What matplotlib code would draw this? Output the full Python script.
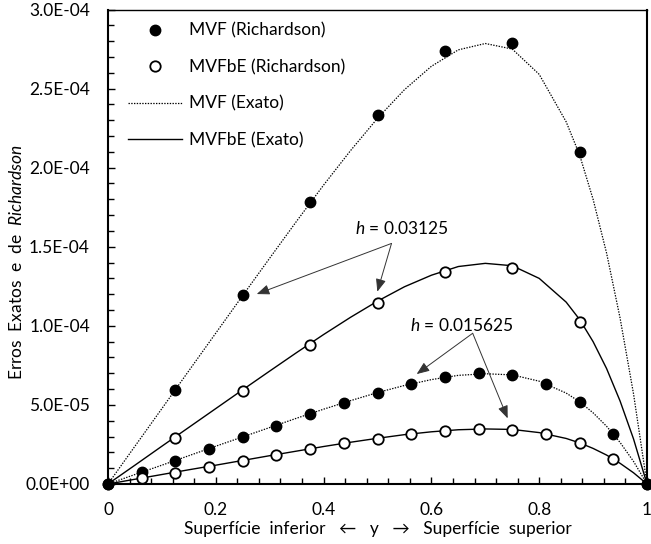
import matplotlib
matplotlib.use('Agg')
import matplotlib.pyplot as plt
from matplotlib.ticker import MultipleLocator, FuncFormatter
from matplotlib.lines import Line2D

plt.rcParams['font.family'] = ['Lato', 'DejaVu Sans']
plt.rcParams['mathtext.fontset'] = 'custom'
plt.rcParams['mathtext.rm'] = 'Lato'
plt.rcParams['mathtext.it'] = 'Lato:italic'

# ---------------- data ----------------
# grid points, h = 0.03125 results (every 0.125)
y_h1 = [0, 0.125, 0.25, 0.375, 0.5, 0.625, 0.75, 0.875, 1.0]
mvf_rich_h1 = [0, 5.95e-5, 11.93e-5, 17.84e-5, 23.3e-5, 27.37e-5, 27.86e-5, 21.0e-5, 0]
mvfbe_rich_h1 = [0, 2.93e-5, 5.91e-5, 8.81e-5, 11.46e-5, 13.4e-5, 13.64e-5, 10.26e-5, 0]

# grid points, h = 0.015625 results (every 0.0625)
y_h2 = [0, 0.0625, 0.125, 0.1875, 0.25, 0.3125, 0.375, 0.4375, 0.5,
        0.5625, 0.625, 0.6875, 0.75, 0.8125, 0.875, 0.9375, 1.0]
mvf_rich_h2 = [0, 0.74e-5, 1.48e-5, 2.22e-5, 2.95e-5, 3.67e-5, 4.43e-5, 5.13e-5, 5.78e-5,
               6.33e-5, 6.78e-5, 7.0e-5, 6.89e-5, 6.32e-5, 5.18e-5, 3.16e-5, 0]
mvfbe_rich_h2 = [0, 0.36e-5, 0.72e-5, 1.10e-5, 1.48e-5, 1.81e-5, 2.19e-5, 2.57e-5, 2.87e-5,
                 3.19e-5, 3.38e-5, 3.46e-5, 3.42e-5, 3.16e-5, 2.57e-5, 1.58e-5, 0]

# exact error curves
y_ex = [0, 0.05, 0.1, 0.15, 0.2, 0.25, 0.3, 0.35, 0.4, 0.45, 0.5, 0.55, 0.6, 0.65,
        0.7, 0.75, 0.8, 0.85, 0.875, 0.9, 0.925, 0.95, 0.975, 1.0]
mvf_ex_h1 = [0, 2.39e-5, 4.77e-5, 7.16e-5, 9.54e-5, 11.92e-5, 14.28e-5, 16.62e-5, 18.9e-5,
             21.08e-5, 23.12e-5, 24.93e-5, 26.41e-5, 27.45e-5, 27.85e-5, 27.5e-5, 25.9e-5,
             22.9e-5, 20.8e-5, 18.0e-5, 14.6e-5, 10.5e-5, 5.7e-5, 0]
mvfbe_ex_h1 = [0, 1.19e-5, 2.39e-5, 3.58e-5, 4.77e-5, 5.96e-5, 7.14e-5, 8.31e-5, 9.45e-5,
               10.54e-5, 11.56e-5, 12.47e-5, 13.2e-5, 13.75e-5, 13.95e-5, 13.8e-5, 13.0e-5,
               11.5e-5, 10.4e-5, 9.0e-5, 7.3e-5, 5.25e-5, 2.85e-5, 0]
mvf_ex_h2 = [0, 0.6e-5, 1.19e-5, 1.79e-5, 2.39e-5, 2.98e-5, 3.57e-5, 4.16e-5, 4.73e-5,
             5.27e-5, 5.78e-5, 6.23e-5, 6.6e-5, 6.87e-5, 6.97e-5, 6.9e-5, 6.5e-5,
             5.75e-5, 5.2e-5, 4.5e-5, 3.65e-5, 2.63e-5, 1.43e-5, 0]
mvfbe_ex_h2 = [0, 0.3e-5, 0.6e-5, 0.9e-5, 1.19e-5, 1.49e-5, 1.79e-5, 2.08e-5, 2.37e-5,
               2.64e-5, 2.89e-5, 3.12e-5, 3.3e-5, 3.43e-5, 3.48e-5, 3.45e-5, 3.25e-5,
               2.88e-5, 2.6e-5, 2.25e-5, 1.83e-5, 1.31e-5, 0.71e-5, 0]

legend_labels = ['MVF (Richardson)', 'MVFbE (Richardson)', 'MVF (Exato)', 'MVFbE (Exato)']
ann1_text = r'$h$ = 0.03125'
ann2_text = r'$h$ = 0.015625'
xlabel = 'Superfície  inferior   ←   y   →   Superfície  superior'
ylabel = r'Erros  Exatos  e  de  $\mathit{Richardson}$'

# ---------------- figure ----------------
fig = plt.figure(figsize=(6.51, 5.44), dpi=100)
ax = fig.add_axes([108/651, 1-484/544, 539/651, 474.5/544])

dot = (0, (1.1, 1.1))
ax.plot(y_ex, mvf_ex_h1, color='black', lw=0.9, ls=dot, zorder=2)
ax.plot(y_ex, mvfbe_ex_h1, color='black', lw=1.0, ls='-', zorder=2)
ax.plot(y_ex, mvf_ex_h2, color='black', lw=0.9, ls=dot, zorder=2)
ax.plot(y_ex, mvfbe_ex_h2, color='black', lw=1.0, ls='-', zorder=2)

ms = 7.5
for yy, vv in [(y_h1, mvf_rich_h1), (y_h2, mvf_rich_h2)]:
    ax.plot(yy, vv, ls='none', marker='o', ms=ms, mfc='black', mec='black',
            zorder=3, clip_on=False)
for yy, vv in [(y_h1, mvfbe_rich_h1), (y_h2, mvfbe_rich_h2)]:
    ax.plot(yy, vv, ls='none', marker='o', ms=ms, mfc='white', mec='black', mew=1.3,
            zorder=4, clip_on=False, markevery=slice(1, -1))

ax.set_xlim(0, 1)
ax.set_ylim(0, 3.0e-4)
ax.xaxis.set_major_locator(MultipleLocator(0.2))
ax.xaxis.set_minor_locator(MultipleLocator(0.04))
ax.yaxis.set_major_locator(MultipleLocator(5e-5))
ax.yaxis.set_minor_locator(MultipleLocator(1e-5))
ax.xaxis.set_major_formatter(FuncFormatter(lambda v, p: '{:g}'.format(round(v, 6))))
ax.yaxis.set_major_formatter(FuncFormatter(lambda v, p: '{:.1E}'.format(v)))
ax.tick_params(which='both', direction='in', top=False, right=False, width=1.0,
               labelsize=12.5, pad=13)
ax.tick_params(which='major', length=5)
ax.tick_params(which='minor', length=4)
for s in ['left', 'bottom', 'right']:
    ax.spines[s].set_linewidth(1.5)
ax.spines['top'].set_linewidth(1.0)

ax.set_xlabel(xlabel, fontsize=12.5, labelpad=2)
ax.set_ylabel(ylabel, fontsize=12.5)
ax.yaxis.set_label_coords(-0.154, 0.468)

handles = [
    Line2D([], [], ls='none', marker='o', ms=ms, mfc='black', mec='black'),
    Line2D([], [], ls='none', marker='o', ms=ms, mfc='white', mec='black', mew=1.3),
    Line2D([], [], color='black', lw=0.9, ls=dot),
    Line2D([], [], color='black', lw=1.0, ls='-'),
]
ax.legend(handles, legend_labels, loc='upper left', bbox_to_anchor=(0.037, 0.972),
          frameon=False, fontsize=12.5, handlelength=3.1, handletextpad=0.4,
          labelspacing=1.17, borderpad=0, borderaxespad=0)

aprops = dict(arrowstyle='-|>,head_length=0.55,head_width=0.22', color='#333333',
              lw=0.7, shrinkA=0, shrinkB=0, mutation_scale=14)
ax.text(0.546, 16.18e-5, ann1_text, fontsize=12.5, ha='center', va='center')
ax.annotate('', xy=(0.276, 12.01e-5), xytext=(0.526, 15.21e-5), arrowprops=aprops)
ax.annotate('', xy=(0.4997, 12.16e-5), xytext=(0.526, 15.21e-5), arrowprops=aprops)
ax.text(0.657, 9.99e-5, ann2_text, fontsize=12.5, ha='center', va='center')
ax.annotate('', xy=(0.5727, 6.95e-5), xytext=(0.6766, 9.53e-5), arrowprops=aprops)
ax.annotate('', xy=(0.7415, 4.15e-5), xytext=(0.6766, 9.53e-5), arrowprops=aprops)

fig.savefig('out.png', dpi=100)
